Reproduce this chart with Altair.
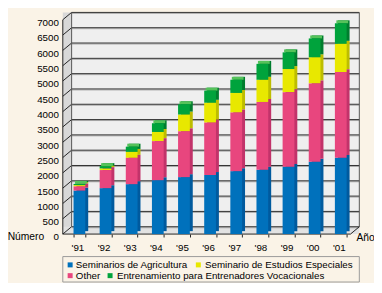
import altair as alt
import pandas as pd

years = ["'91", "'92", "'93", "'94", "'95", "'96", "'97", "'98", "'99", "'00", "'01"]
agri = [1420, 1500, 1630, 1760, 1860, 1930, 2055, 2100, 2195, 2365, 2490]
other = [135, 590, 860, 1275, 1495, 1710, 1915, 2215, 2440, 2555, 2800]
estudios = [45, 55, 195, 300, 550, 650, 640, 725, 755, 855, 925]
entren = [40, 75, 170, 285, 335, 395, 430, 520, 545, 615, 670]

series_names = ["Seminarios de Agricultura", "Seminario de Estudios Especiales",
                "Other", "Entrenamiento para Entrenadores Vocacionales"]
front_colors = ["#0071bc", "#e8e800", "#e8467e", "#00a33c"]
side_colors = ["#005a9e", "#bdbd00", "#c2336a", "#007d2e"]
top_color = "#55c25a"
stack_order = [0, 2, 1, 3]
series_values = [agri, estudios, other, entren]
y_ticks = list(range(0, 7001, 500))

FONT = "Liberation Sans"
BG = "#faf3e7"
W, H = 301, 219
DX = 9          # depth offset in px (x)
DY = 7.5        # depth offset in px (y)
DEPTH_UNITS = 240  # DY expressed in data units
WALL_R = 303

rows = []
for name, vals, order in zip(series_names, series_values, stack_order):
    for yr, v in zip(years, vals):
        rows.append({"year": yr, "series": name, "value": v, "order": order})
df = pd.DataFrame(rows)

ticks_df = pd.DataFrame({"v": y_ticks})
ticks_df["v2"] = ticks_df["v"] + DEPTH_UNITS

yscale = alt.Scale(domain=[0, 7000], nice=False, zero=True)
xscale = alt.Scale(domain=years, paddingInner=0.55, paddingOuter=0.41)

y_axis = alt.Axis(title=None, values=y_ticks, format="d", domain=False, ticks=False,
                  grid=False, labelPadding=4.5, labelFontSize=10, labelFont=FONT,
                  labelColor="#000000", labelOffset=3)
x_axis = alt.Axis(title=None, labelAngle=0, domain=False, ticks=True, tickSize=3,
                  tickColor="#222222", tickBand="extent", labelPadding=6,
                  labelFontSize=10, labelFont=FONT, labelColor="#000000",
                  labelOffset=-2, grid=False)

one = pd.DataFrame({"a": [0]})
edge_df = pd.DataFrame({"lo": [0], "hi": [7000], "d": [DEPTH_UNITS]})

left_wall = alt.Chart(one).mark_rect(color="#d8d8d8").encode(
    x=alt.value(0), x2=alt.value(DX), y=alt.value(-DY), y2=alt.value(H))
back_wall = alt.Chart(one).mark_rect(color="#efefef").encode(
    x=alt.value(DX), x2=alt.value(WALL_R), y=alt.value(-DY), y2=alt.value(H - DY))
floor = alt.Chart(one).mark_rect(color="#e2e2e2").encode(
    x=alt.value(0), x2=alt.value(WALL_R), y=alt.value(H - DY), y2=alt.value(H))

grid_shadow = alt.Chart(ticks_df).mark_rule(color="#a8a8a8", strokeWidth=1, yOffset=-DY + 1).encode(
    y=alt.Y("v:Q", scale=yscale, axis=y_axis), x=alt.value(DX), x2=alt.value(WALL_R))
grid = alt.Chart(ticks_df).mark_rule(color="#2e2e2e", strokeWidth=1, yOffset=-DY).encode(
    y=alt.Y("v:Q", scale=yscale, axis=y_axis), x=alt.value(DX), x2=alt.value(WALL_R))
diag = alt.Chart(ticks_df).mark_rule(color="#222222", strokeWidth=1).encode(
    y=alt.Y("v:Q", scale=yscale, axis=y_axis), y2="v2:Q", x=alt.value(0), x2=alt.value(DX))

edges = [
    alt.Chart(edge_df).mark_rule(color="#222222").encode(
        x=alt.value(0), y=alt.Y("lo:Q", scale=yscale, axis=y_axis), y2="hi:Q"),
    alt.Chart(edge_df).mark_rule(color="#555555", yOffset=-DY, y2Offset=-DY).encode(
        x=alt.value(DX), y=alt.Y("lo:Q", scale=yscale, axis=y_axis), y2="hi:Q"),
    alt.Chart(edge_df).mark_rule(color="#555555", yOffset=-DY, y2Offset=-DY).encode(
        x=alt.value(WALL_R), y=alt.Y("lo:Q", scale=yscale, axis=y_axis), y2="hi:Q"),
    alt.Chart(edge_df).mark_rule(color="#222222").encode(
        x=alt.value(0), x2=alt.value(WALL_R - DX), y=alt.Y("lo:Q", scale=yscale, axis=y_axis)),
    alt.Chart(edge_df).mark_rule(color="#222222").encode(
        x=alt.value(WALL_R - DX), x2=alt.value(WALL_R),
        y=alt.Y("lo:Q", scale=yscale, axis=y_axis), y2="d:Q"),
]

side = alt.Chart(df).mark_bar(xOffset=3, yOffset=-3, x2Offset=3, y2Offset=-3).encode(
    x=alt.X("year:N", scale=xscale, axis=x_axis, sort=years),
    y=alt.Y("sum(value):Q", scale=yscale, axis=y_axis, stack="zero"),
    color=alt.Color("series:N", scale=alt.Scale(domain=series_names, range=side_colors),
                    legend=None),
    order=alt.Order("order:Q", sort="ascending"),
)

top = alt.Chart(df).transform_aggregate(
    total="sum(value)", groupby=["year"]
).mark_bar(color=top_color, xOffset=1.5, x2Offset=1.5, yOffset=-3, y2Offset=0).encode(
    x=alt.X("year:N", scale=xscale, axis=x_axis, sort=years),
    y=alt.Y("total:Q", scale=yscale, axis=y_axis),
    y2="total:Q",
)

front = alt.Chart(df).mark_bar().encode(
    x=alt.X("year:N", scale=xscale, sort=years, axis=x_axis),
    y=alt.Y("sum(value):Q", scale=yscale, stack="zero", axis=y_axis),
    color=alt.Color("series:N",
                    scale=alt.Scale(domain=series_names, range=front_colors),
                    legend=None),
    order=alt.Order("order:Q", sort="ascending"),
)

numero = alt.Chart(edge_df).mark_text(text="Número", align="right", baseline="middle",
                                      font=FONT, fontSize=10.5, dy=3).encode(
    x=alt.value(-19), y=alt.Y("lo:Q", scale=yscale, axis=y_axis))
anio = alt.Chart(edge_df).mark_text(text="Año", align="left", baseline="middle",
                                    font=FONT, fontSize=10.5, dy=4).encode(
    x=alt.value(300), y=alt.Y("lo:Q", scale=yscale, axis=y_axis))

# Manual legend (flow layout, two rows), positions in view pixels
leg_box = alt.Chart(one).mark_rect(fill=BG, stroke="#9a9a9a", strokeWidth=1).encode(
    x=alt.value(0), x2=alt.value(303), y=alt.value(242), y2=alt.value(268))
leg_layout = [  # (series index, symbol centre x, text x, row centre y)
    (0, 7.5, 13.3, 250.5),
    (1, 138.5, 145.3, 250.5),
    (2, 7.5, 13.3, 261.5),
    (3, 48.3, 55.3, 261.5),
]
leg_layers = []
for idx, sx, tx, ry in leg_layout:
    leg_layers.append(alt.Chart(one).mark_square(color=front_colors[idx], size=26, opacity=1,
                                                 strokeWidth=0).encode(
        x=alt.value(sx), y=alt.value(ry)))
    leg_layers.append(alt.Chart(one).mark_text(text=series_names[idx], align="left",
                                               baseline="middle", font=FONT, fontSize=10,
                                               color="#000000").encode(
        x=alt.value(tx), y=alt.value(ry)))

chart = alt.layer(left_wall, back_wall, floor, grid_shadow, grid, diag, *edges, side, top, front,
                  numero, anio, leg_box, *leg_layers).resolve_scale(
    color="independent"
).properties(
    width=W, height=H,
    autosize=alt.AutoSizeParams(type="none"),
    padding={"left": 56, "top": 9, "right": 17, "bottom": 47},
    background=BG,
).configure_view(stroke=None)

chart.save("out.html", embed_options={"renderer": "svg", "actions": False})
